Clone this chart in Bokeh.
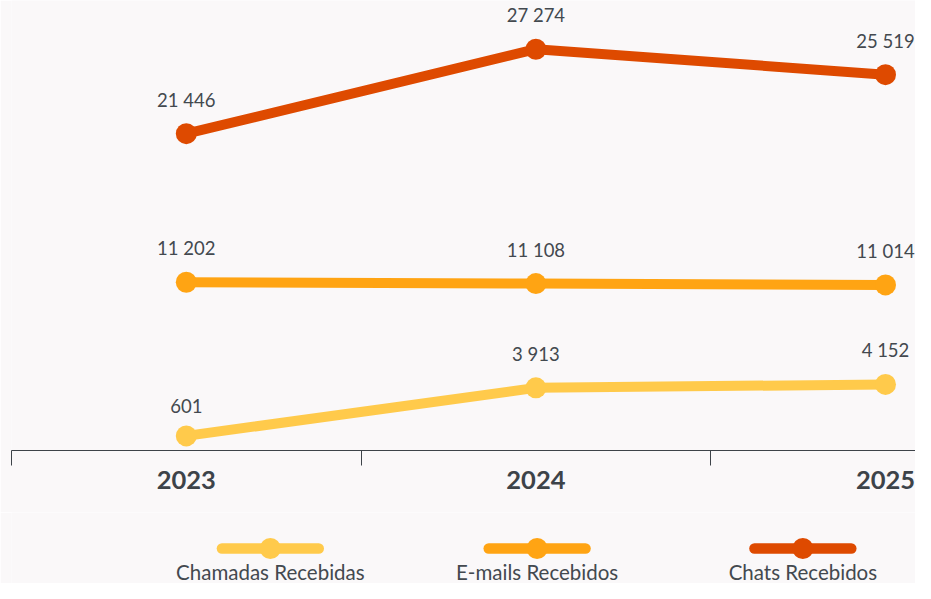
from bokeh.plotting import figure
from bokeh.models import FixedTicker, ColumnDataSource
from bokeh.layouts import column
from bokeh.core.properties import value
from bokeh.embed import file_html
from bokeh.resources import INLINE

# ---- data ----
years = ["2023", "2024", "2025"]
series_names = ["Chamadas Recebidas", "E-mails Recebidos", "Chats Recebidos"]
chamadas = [601, 3913, 4152]
emails = [11202, 11108, 11014]
chats = [21446, 27274, 25519]
series_values = [chamadas, emails, chats]
colors = ["#FFCA4B", "#FFA413", "#DE4A00"]

BG = "#FAF8F9"
TXT = "#43494F"
FONT = "Lato"

def fmt(v):
    return f"{v:,}".replace(",", " ")

xs = list(range(len(years)))

W = 915
MAIN_H = 512
LEG_H = 71
UNIT = 349.6   # px per category

p = figure(width=W, height=MAIN_H, output_backend="svg", toolbar_location=None,
           x_range=(-0.5, -0.5 + (W - 11) / UNIT), y_range=(-407, 30634),
           y_axis_location=None, min_border_left=11, min_border_right=0,
           min_border_top=0, min_border_bottom=62)
p.background_fill_color = BG
p.border_fill_color = BG
p.outline_line_color = None
p.grid.visible = False

for vals, col in zip(series_values, colors):
    src = ColumnDataSource(dict(x=xs, y=vals, t=[fmt(v) for v in vals]))
    p.line("x", "y", source=src, line_color=col, line_width=10,
           line_cap="round", line_join="round")
    p.scatter("x", "y", source=src, size=21, fill_color=col, line_color=None)
    p.text("x", "y", text="t", source=src, text_align="center",
           text_baseline="bottom", y_offset=-23, text_color=TXT,
           text_font=value(FONT), text_font_size="18.5px")

ax = p.xaxis[0]
ax.ticker = FixedTicker(ticks=xs, minor_ticks=[x - 0.5 for x in xs])
ax.major_label_overrides = {i: y for i, y in enumerate(years)}
ax.major_tick_line_color = None
ax.major_tick_out = 0
ax.major_tick_in = 0
ax.minor_tick_line_color = "#3D4349"
ax.minor_tick_out = 15
ax.minor_tick_in = 0
ax.axis_line_color = "#3D4349"
ax.axis_line_width = 1
ax.major_label_text_font = FONT
ax.major_label_text_font_style = "bold"
ax.major_label_text_font_size = "25.5px"
ax.major_label_text_color = "#3D4349"
ax.major_label_standoff = 5

# ---- legend (labels below glyphs) ----
leg = figure(width=W, height=LEG_H, output_backend="svg", toolbar_location=None,
             x_range=(0, W), y_range=(0, LEG_H), x_axis_location=None,
             y_axis_location=None, min_border=0)
leg.background_fill_color = BG
leg.border_fill_color = BG
leg.outline_line_color = None
leg.grid.visible = False

centers = [262, 532, 801]
for c, col, name in zip(centers, colors, series_names):
    leg.segment(x0=[c - 49], y0=[35], x1=[c + 49], y1=[35], line_color=col,
                line_width=10.5, line_cap="round")
    leg.scatter(x=[c], y=[35], size=21, fill_color=col, line_color=None)
    leg.text(x=[c], y=[12], text=[name], text_align="center",
             text_baseline="middle", text_color=TXT,
             text_font=value(FONT), text_font_size="20.5px")

layout = column(p, leg, spacing=0)

open("out.html", "w").write(file_html(layout, INLINE))
